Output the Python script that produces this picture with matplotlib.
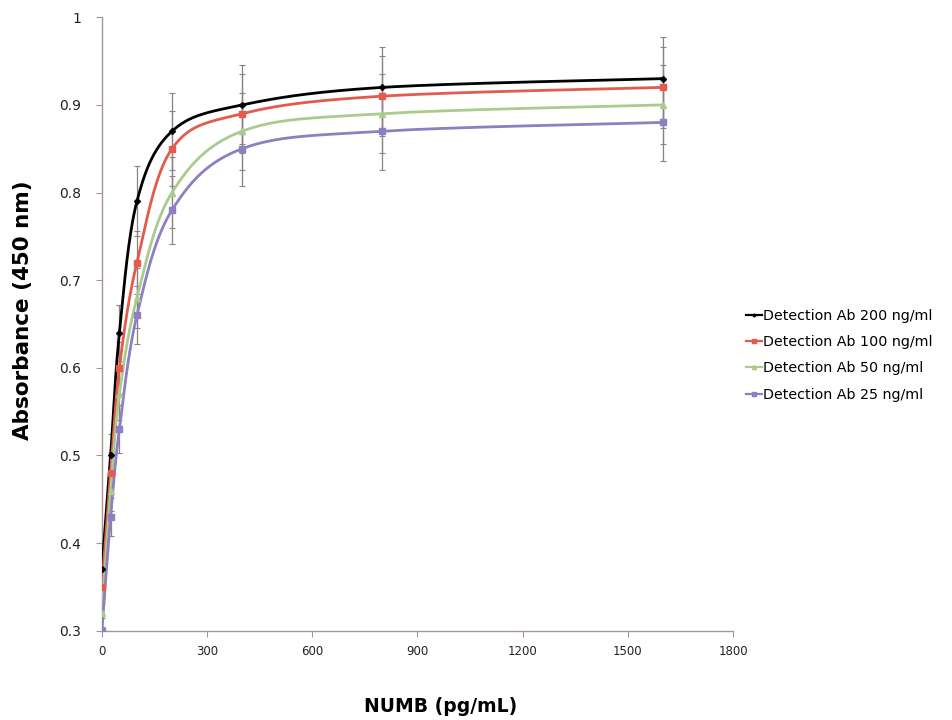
import numpy as np
import matplotlib
matplotlib.use("Agg")
import matplotlib.pyplot as plt
from matplotlib.ticker import FuncFormatter

# ---- data ----
conc = [0, 25, 50, 100, 200, 400, 800, 1600]
labels = ["Detection Ab 200 ng/ml", "Detection Ab 100 ng/ml",
          "Detection Ab 50 ng/ml", "Detection Ab 25 ng/ml"]
ab200 = [0.37, 0.50, 0.64, 0.79, 0.87, 0.90, 0.92, 0.93]
ab100 = [0.35, 0.48, 0.60, 0.72, 0.85, 0.89, 0.91, 0.92]
ab50 = [0.32, 0.46, 0.57, 0.68, 0.80, 0.87, 0.89, 0.90]
ab25 = [0.30, 0.43, 0.53, 0.66, 0.78, 0.85, 0.87, 0.88]
err200 = [0.019, 0.025, 0.032, 0.040, 0.044, 0.045, 0.046, 0.047]
err100 = [0.018, 0.024, 0.030, 0.036, 0.043, 0.045, 0.046, 0.046]
err50 = [0.016, 0.023, 0.029, 0.034, 0.040, 0.044, 0.045, 0.045]
err25 = [0.015, 0.022, 0.027, 0.033, 0.039, 0.043, 0.044, 0.044]
xticks = [0, 300, 600, 900, 1200, 1500, 1800]
yticks = [0.3, 0.4, 0.5, 0.6, 0.7, 0.8, 0.9, 1.0]

series = [ab200, ab100, ab50, ab25]
errors = [err200, err100, err50, err25]
colors = ["#000000", "#e35b4c", "#a9cc8e", "#8c7fc2"]
markers = ["D", "s", "^", "s"]
msizes = [3, 5, 4.5, 5]

XMAX, YMIN, YMAX = 1800, 0.3, 1.0
AX_W, AX_H = 631.0, 614.0


def smooth(x, y, n=60):
    """Excel-style Bezier smoothing computed in screen-like coordinates."""
    px = np.asarray(x, float) / XMAX * AX_W
    py = (np.asarray(y, float) - YMIN) / (YMAX - YMIN) * AX_H
    P = np.column_stack([px, py])
    P = np.vstack([P[0], P, P[-1]])
    out = []
    t = np.linspace(0, 1, n)[:, None]
    for i in range(1, len(P) - 2):
        p0, p1, p2, p3 = P[i - 1], P[i], P[i + 1], P[i + 2]
        c1 = p1 + (p2 - p0) / 6.0
        c2 = p2 - (p3 - p1) / 6.0
        seg = ((1 - t) ** 3) * p1 + 3 * ((1 - t) ** 2) * t * c1 + 3 * (1 - t) * t ** 2 * c2 + t ** 3 * p2
        out.append(seg)
    S = np.vstack(out)
    return S[:, 0] / AX_W * XMAX, S[:, 1] / AX_H * (YMAX - YMIN) + YMIN


fig = plt.figure(figsize=(9.52, 7.2), dpi=100)
ax = fig.add_axes([0.107, 0.124, 0.663, 0.852])

for vals, errs, c in zip(series, errors, colors):
    ax.errorbar(conc, vals, yerr=errs, fmt="none", ecolor="#8c8282",
                elinewidth=0.9, capsize=2.5, capthick=0.8, zorder=2)
for vals, c, mk, ms, lab in zip(series, colors, markers, msizes, labels):
    sx, sy = smooth(conc, vals)
    ax.plot(sx, sy, color=c, lw=2.0, zorder=3)
    ax.plot(conc, vals, linestyle="none", marker=mk, color=c, ms=ms, zorder=4)
    ax.plot([], [], color=c, lw=1.6, marker=mk, ms=ms - 1.5, label=lab)

ax.set_xlim(0, XMAX)
ax.set_ylim(YMIN, YMAX)
ax.set_xticks(xticks)
ax.set_yticks(yticks)
ax.yaxis.set_major_formatter(FuncFormatter(lambda v, p: "1" if abs(v - 1) < 1e-9 else f"{v:.1f}"))
for s in ["top", "right"]:
    ax.spines[s].set_visible(False)
for s in ["left", "bottom"]:
    ax.spines[s].set_color("#a59595")
    ax.spines[s].set_linewidth(1.0)
ax.tick_params(axis="both", direction="out", length=4, color="#a59595",
               labelcolor="#222222")
ax.tick_params(axis="x", labelsize=8.5, pad=6)
ax.tick_params(axis="y", labelsize=10, pad=11)

fig.text(441 / 952, 1 - 706 / 720, "NUMB (pg/mL)", fontsize=13.5, fontweight="bold",
         ha="center", va="center")
fig.text(23 / 952, 1 - 310 / 720, "Absorbance (450 nm)", fontsize=15.5, fontweight="bold",
         ha="center", va="center", rotation=90)

leg = ax.legend(loc="center left", bbox_to_anchor=(1.0, 0.449), frameon=False,
                fontsize=10.3, handlelength=1.15, handletextpad=0.05,
                labelspacing=0.85, borderaxespad=0.5)

fig.savefig("out.png", dpi=100)
